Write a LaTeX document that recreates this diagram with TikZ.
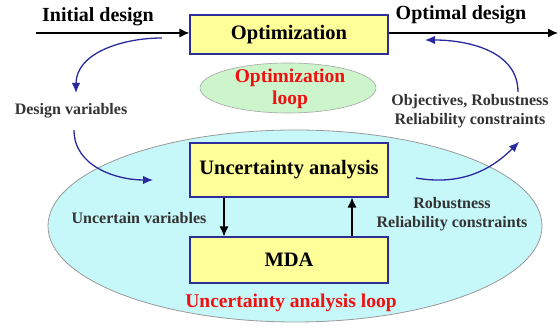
\documentclass[tikz,border=0pt]{standalone}
\usepackage{fontspec}
\setmainfont{Liberation Serif}
\usetikzlibrary{positioning,arrows.meta}

\definecolor{boxfill}{HTML}{FFFF99}
\definecolor{boxline}{HTML}{2E2E9A}
\definecolor{loopred}{HTML}{F01010}
\definecolor{optfill}{HTML}{CCF5CC}
\definecolor{uafill}{HTML}{C6F7F9}
\definecolor{flowblue}{HTML}{2A2A9E}

\tikzset{
  block/.style={rectangle, draw=boxline, fill=boxfill, line width=1.1pt,
    minimum width=198pt, font=\fontsize{20.5}{23}\selectfont\bfseries},
  bigtext/.style={font=\fontsize{20}{22}\selectfont\bfseries, align=center},
  smalltext/.style={font=\fontsize{16}{19.5}\selectfont\bfseries, align=center, text=black!80},
  looptext/.style={font=\fontsize{19.5}{22}\selectfont\bfseries, align=center, text=loopred},
  mainflow/.style={-{Latex[length=10pt,width=9pt]}, line width=1.2pt},
  bluearrow/.style={-{Latex[length=10pt,width=8.5pt]}, draw=flowblue, line width=1.3pt}
}

\begin{document}
\begin{tikzpicture}[x=1pt,y=1pt]
    \useasboundingbox (0,0) rectangle (560,326);

    % Loops in the back
    \draw[fill=uafill, draw=black!40, line width=0.8pt] (295,100) ellipse (247 and 96);
    \draw[fill=optfill, draw=black!35, line width=0.6pt] (288,238) ellipse (88 and 25);

    % Blocks
    \node[block, minimum height=39pt] (opt) at (289,291.5) {Optimization};
    \node[block, minimum height=54pt] (ua) at (289,156) {Uncertainty analysis};
    \node[block, minimum height=46pt] (mda) at (289,66) {MDA};

    % Loop labels
    \node[looptext] (optloop) at (290,237) {Optimization\\loop};
    \node[looptext] (ualoop) at (291,23) {Uncertainty analysis loop};

    % Main flow
    \coordinate (start) at (36,293);
    \coordinate (finish) at (558,293);
    \draw[mainflow] (start) -- (opt.west |- start);
    \draw[mainflow] (opt.east |- finish) -- (finish);
    \node[bigtext] (initial) at (98,309) {Initial design};
    \node[bigtext] (optimal) at (461,311) {Optimal design};

    % Inner loop
    \draw[mainflow] ([xshift=-65pt]ua.south) -- ([xshift=-65pt]mda.north);
    \draw[mainflow] ([xshift=63pt]mda.north) -- ([xshift=63pt]ua.south);
    \node[smalltext] (uvars) at (139,108) {Uncertain variables};
    \node[smalltext] (robust) at (452,112) {Robustness\\Reliability constraints};

    % Outer loop
    \node[smalltext] (dvars) at (71,215) {Design variables};
    \node[smalltext] (objs) at (470,215) {Objectives, Robustness\\Reliability constraints};
    \coordinate (b1s) at (162,288);
    \coordinate (b1e) at (76,233);
    \coordinate (b2s) at (74,196);
    \coordinate (b2e) at (153,146);
    \coordinate (b3s) at (416,148);
    \coordinate (b3e) at (519,184);
    \coordinate (b4s) at (518,234);
    \coordinate (b4e) at (425,286);
    \draw[bluearrow] (b1s) to[out=180,in=90] (b1e);
    \draw[bluearrow] (b2s) to[out=-90,in=180] (b2e);
    \draw[bluearrow] (b3s) to[out=-10,in=225] (b3e);
    \draw[bluearrow] (b4s) to[out=90,in=0] (b4e);
\end{tikzpicture}
\end{document}
